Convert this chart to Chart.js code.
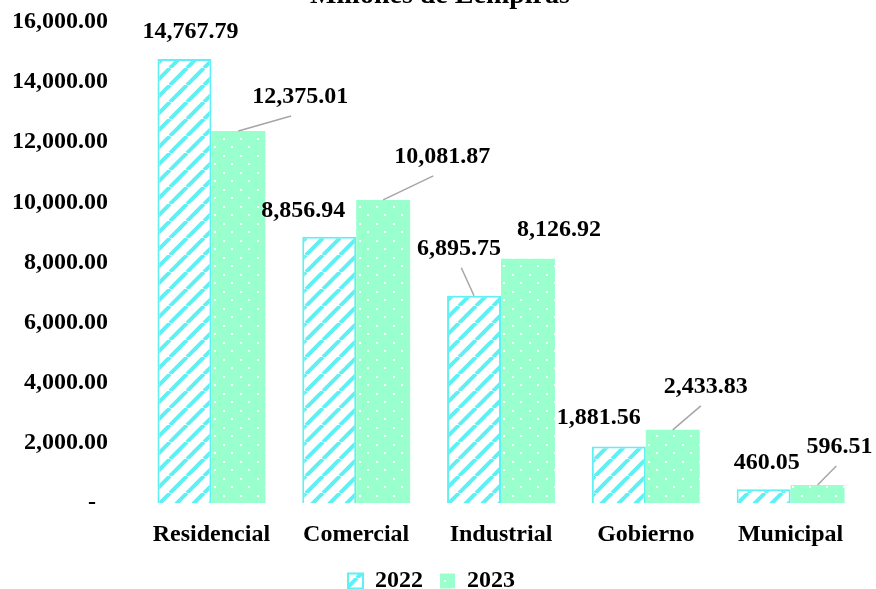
<!DOCTYPE html>
<html>
<head>
<meta charset="utf-8">
<script src="https://cdn.jsdelivr.net/npm/chart.js@4"></script>
<style>
  body { margin: 0; background: #fff; }
  canvas { display: block; }
</style>
</head>
<body>
<canvas id="chart" width="876" height="589"></canvas>
<script>
// Data
const categories = ['Residencial', 'Comercial', 'Industrial', 'Gobierno', 'Municipal'];
const seriesNames = ['2022', '2023'];
const values2022 = [14767.79, 8856.94, 6895.75, 1881.56, 460.05];
const values2023 = [12375.01, 10081.87, 8126.92, 2433.83, 596.51];
const yMax = 16000;
const yStep = 2000;
const chartTitle = 'Millones de Lempiras';

// label placement (pixels from bar top centre) and leader line flags
const labelShift2022 = [[6, -27], [-26, -26], [-15, -47], [-20, -29], [3, -26]];
const labelShift2023 = [[62, -34], [59, -43], [31, -29], [33, -43], [22, -38]];
const leader2022 = [false, false, true, false, false];
const leader2023 = [true, true, false, true, true];

const FONT = '"Liberation Serif", "Times New Roman", serif';
const CYAN = '#5ef0f2';
const MINT = '#99ffcc';

function stripePattern() {
  const s = 17;
  const c = document.createElement('canvas');
  c.width = s; c.height = s;
  const g = c.getContext('2d');
  g.fillStyle = '#fff';
  g.fillRect(0, 0, s, s);
  g.strokeStyle = CYAN;
  g.lineWidth = 4;
  for (const o of [-s, 0, s]) {
    g.beginPath();
    g.moveTo(o, s);
    g.lineTo(o + s, 0);
    g.stroke();
  }
  return g.createPattern(c, 'repeat');
}

function dotPattern() {
  const w = 17, h = 17;
  const c = document.createElement('canvas');
  c.width = w; c.height = h;
  const g = c.getContext('2d');
  g.fillStyle = MINT;
  g.fillRect(0, 0, w, h);
  g.fillStyle = '#fff';
  g.fillRect(2, 2, 2, 2);
  g.fillRect(10, 10, 2, 2);
  return g.createPattern(c, 'repeat');
}

function fmt(v) {
  return v.toLocaleString('en-US', { minimumFractionDigits: 2, maximumFractionDigits: 2 });
}

// labels above bars, with leader lines where Excel moved them
const barLabels = {
  id: 'barLabels',
  afterDatasetsDraw(chart) {
    const ctx = chart.ctx;
    const shifts = [labelShift2022, labelShift2023];
    const leaders = [leader2022, leader2023];
    ctx.save();
    ctx.font = 'bold 24px ' + FONT;
    ctx.textAlign = 'center';
    ctx.textBaseline = 'middle';
    chart.data.datasets.forEach((ds, di) => {
      chart.getDatasetMeta(di).data.forEach((bar, i) => {
        const lx = bar.x + shifts[di][i][0];
        const ly = bar.y + shifts[di][i][1];
        if (leaders[di][i]) {
          ctx.strokeStyle = '#a6a6a6';
          ctx.lineWidth = 1.5;
          ctx.beginPath();
          ctx.moveTo(bar.x, bar.y);
          ctx.lineTo(lx + (bar.x - lx) * 0.15, ly + 19);
          ctx.stroke();
        }
        ctx.fillStyle = '#000';
        ctx.fillText(fmt(ds.data[i]), lx, ly);
      });
    });
    ctx.restore();
  }
};

// title sits partly above the top edge in the reference
const cutTitle = {
  id: 'cutTitle',
  afterDraw(chart) {
    const ctx = chart.ctx;
    ctx.save();
    ctx.font = 'bold 28px ' + FONT;
    ctx.fillStyle = '#000';
    ctx.textAlign = 'center';
    ctx.textBaseline = 'alphabetic';
    ctx.fillText(chartTitle, 440, 3);
    ctx.restore();
  }
};

new Chart(document.getElementById('chart'), {
  type: 'bar',
  data: {
    labels: categories,
    datasets: [{
      label: seriesNames[0],
      data: values2022,
      backgroundColor: stripePattern(),
      borderColor: CYAN,
      borderWidth: 2,
      categoryPercentage: 0.745,
      barPercentage: 1.0,
    }, {
      label: seriesNames[1],
      data: values2023,
      backgroundColor: dotPattern(),
      borderWidth: 0,
      categoryPercentage: 0.745,
      barPercentage: 1.0,
    }]
  },
  options: {
    responsive: false,
    animation: false,
    devicePixelRatio: 1,
    layout: { padding: { top: 0, right: 13, left: 0, bottom: -14 } },
    plugins: {
      title: { display: false },
      tooltip: { enabled: false },
      legend: {
        position: 'bottom',
        labels: {
          boxWidth: 15,
          boxHeight: 15,
          padding: 17,
          color: '#000',
          font: { family: FONT, size: 24, weight: 'bold' }
        }
      }
    },
    scales: {
      x: {
        grid: { display: false, drawTicks: false },
        border: { display: false },
        ticks: {
          color: '#000',
          padding: 17,
          font: { family: FONT, size: 24, weight: 'bold' }
        },
        afterFit(scale) { scale.height = 49; }
      },
      y: {
        min: 0,
        max: yMax,
        grid: { display: false, drawTicks: false },
        border: { display: false },
        ticks: {
          stepSize: yStep,
          color: '#000',
          padding: 31,
          font: { family: FONT, size: 24, weight: 'bold' },
          callback: (v) => v === 0 ? '-  ' : fmt(v)
        },
        afterFit(scale) {
          scale.width = 139;
          scale.paddingTop = 22;
          scale.paddingBottom = 0;
        }
      }
    }
  },
  plugins: [barLabels, cutTitle]
});
</script>
</body>
</html>
